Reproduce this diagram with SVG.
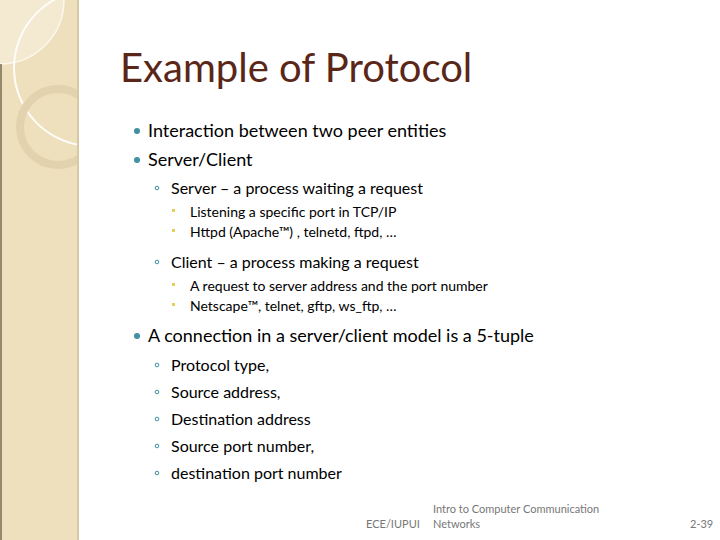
<svg xmlns="http://www.w3.org/2000/svg" width="720" height="540" viewBox="0 0 720 540">
<style>
text{font-family:Lato,"Liberation Sans",sans-serif;fill:#000}
.t{font-size:40px;fill:#5a2617}
.l1{font-size:18px}
.l2{font-size:16px}
.l3{font-size:14px}
.f{font-size:11px;fill:#777}
.d1{fill:#3f8fa3}
.d2{fill:none;stroke:#3f8fa3;stroke-width:1}
.d3{fill:#e3d25a}
</style>
<defs><clipPath id="p"><rect x="0" y="0" width="78" height="540"/></clipPath></defs>
<rect width="720" height="540" fill="#fff"/>
<rect x="0" y="0" width="78" height="540" fill="#efe0bd"/>
<g clip-path="url(#p)">
<circle cx="0" cy="0" r="64" fill="#fff" fill-opacity="0.3" stroke="#fff" stroke-opacity="0.7" stroke-width="1.5"/>
<circle cx="92" cy="68" r="78" fill="none" stroke="#fff" stroke-opacity="0.9" stroke-width="2"/>
<circle cx="58" cy="127" r="38" fill="none" stroke="#e2d2ad" stroke-width="8"/>
</g>
<line x1="78" y1="0" x2="78" y2="540" stroke="#d8c9a6" stroke-width="2"/>
<line x1="1" y1="64" x2="1" y2="540" stroke="#7a6a50" stroke-width="1.5"/>
<text class="t" x="120" y="82">Example of Protocol</text>
<circle class="d1" cx="137" cy="131" r="3"/>
<text class="l1" x="148" y="137">Interaction between two peer entities</text>
<circle class="d1" cx="137" cy="160" r="3"/>
<text class="l1" x="148" y="166">Server/Client</text>
<circle class="d2" cx="157" cy="188" r="1.8"/>
<text class="l2" x="171" y="194">Server – a process waiting a request</text>
<rect class="d3" x="172" y="209" width="3" height="3"/>
<text class="l3" x="190" y="217">Listening a specific port in TCP/IP</text>
<rect class="d3" x="172" y="229" width="3" height="3"/>
<text class="l3" x="190" y="237">Httpd (Apache™) , telnetd, ftpd, …</text>
<circle class="d2" cx="157" cy="262" r="1.8"/>
<text class="l2" x="171" y="268">Client – a process making a request</text>
<rect class="d3" x="172" y="283" width="3" height="3"/>
<text class="l3" x="190" y="291">A request to server address and the port number</text>
<rect class="d3" x="172" y="303" width="3" height="3"/>
<text class="l3" x="190" y="311">Netscape™, telnet, gftp, ws_ftp, …</text>
<circle class="d1" cx="137" cy="336" r="3"/>
<text class="l1" x="148" y="342">A connection in a server/client model is a 5-tuple</text>
<circle class="d2" cx="157" cy="365" r="1.8"/>
<text class="l2" x="171" y="371">Protocol type,</text>
<circle class="d2" cx="157" cy="392" r="1.8"/>
<text class="l2" x="171" y="398">Source address,</text>
<circle class="d2" cx="157" cy="419" r="1.8"/>
<text class="l2" x="171" y="425">Destination address</text>
<circle class="d2" cx="157" cy="446" r="1.8"/>
<text class="l2" x="171" y="452">Source port number,</text>
<circle class="d2" cx="157" cy="473" r="1.8"/>
<text class="l2" x="171" y="479">destination port number</text>
<text class="f" x="366" y="528">ECE/IUPUI</text>
<text class="f" x="433" y="513">Intro to Computer Communication</text>
<text class="f" x="433" y="528">Networks</text>
<text class="f" x="690" y="528">2-39</text>
</svg>
